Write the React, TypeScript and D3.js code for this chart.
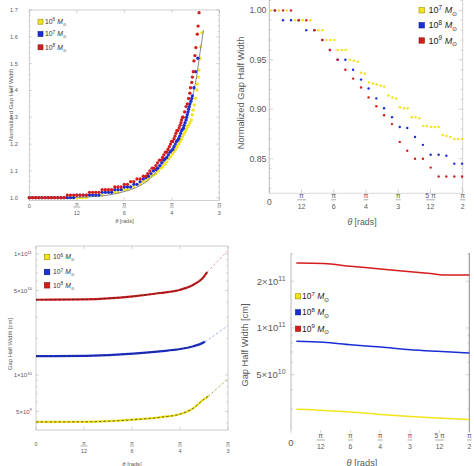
import React from 'react';
import * as d3 from 'd3';

type P = [number, number];

const FONT = "'Liberation Sans', Arial, Helvetica, sans-serif";
const RED = '#d41c1c';
const BLUE = '#1a2ed6';
const YELLOW = '#f2e31a';
const TXT = '#5a5a5a';

// ---------- Panel A: normalized gap half width (theta in degrees) ----------
const aMass = ['6', '7', '8'];
const aYTicks = [1.0, 1.1, 1.2, 1.3, 1.4, 1.5, 1.6, 1.7];
const aYellow: P[] = [
  [0, 1], [1, 1], [2, 1], [3, 1], [4, 1], [5, 1], [6, 1], [7, 1], [8, 1], [9, 1], [10, 1], [11, 1], [12, 1], [13, 1], [14, 1], [15, 1], [16, 1], [17, 1], [18, 1],
  [19, 1.01], [20, 1.01], [21, 1.01], [22, 1.01], [23, 1.01],
  [24, 1.02], [25, 1.02], [26, 1.02], [27, 1.02], [28, 1.02],
  [29, 1.03], [30, 1.03], [31, 1.03], [32, 1.04], [33, 1.04], [34, 1.05], [35, 1.05], [36, 1.06],
  [37, 1.065], [37.6, 1.07], [38.4, 1.08], [39.2, 1.085], [40, 1.09], [40.7, 1.1], [41.4, 1.11], [42.1, 1.115], [42.8, 1.125],
  [43.4, 1.134], [44, 1.145], [44.6, 1.153], [45.2, 1.163], [45.7, 1.172], [46.2, 1.18], [46.7, 1.19], [47.2, 1.2], [47.6, 1.209],
  [48, 1.218], [48.4, 1.228], [48.8, 1.237], [49.2, 1.246], [49.6, 1.255], [49.9, 1.265], [50.3, 1.27], [50.7, 1.28], [51.2, 1.29],
  [51.5, 1.309], [51.8, 1.327], [52.1, 1.346], [52.5, 1.371], [52.9, 1.402], [53.05, 1.424], [53.4, 1.45], [53.6, 1.476],
  [53.9, 1.52], [54.1, 1.563], [54.5, 1.616],
];
const aBlue: P[] = [
  [0, 1], [1, 1], [2, 1], [3, 1], [4, 1], [5, 1], [6, 1], [7, 1], [8, 1], [9, 1], [10, 1], [11, 1], [12, 1], [13, 1], [14, 1],
  [15, 1.01], [16, 1.01], [17, 1.01], [18, 1.01], [19, 1.01], [20, 1.01], [21, 1.01], [22, 1.01],
  [23, 1.02], [24, 1.02], [25, 1.02], [26, 1.02], [27, 1.03], [28, 1.03], [29, 1.03], [30, 1.04], [31, 1.04], [32, 1.04],
  [33, 1.05], [34, 1.05], [35, 1.06], [36, 1.07],
  [36.8, 1.075], [37.6, 1.08], [38.4, 1.09], [39.2, 1.1], [39.9, 1.105], [40.5, 1.11], [41.2, 1.12], [41.8, 1.13], [42.4, 1.14],
  [42.9, 1.145], [43.4, 1.15], [43.9, 1.16], [44.4, 1.17], [44.8, 1.175], [45.3, 1.18], [45.7, 1.19], [46.1, 1.2], [46.5, 1.21],
  [46.9, 1.215], [47.2, 1.22], [47.5, 1.23], [47.8, 1.24], [48.1, 1.25], [48.4, 1.255], [48.7, 1.26], [48.9, 1.27], [49.2, 1.28],
  [49.5, 1.29], [49.7, 1.3], [49.9, 1.31], [50.1, 1.32], [50.3, 1.33], [50.5, 1.34], [50.7, 1.35], [51.05, 1.36], [51.3, 1.37],
  [51.5, 1.38], [52, 1.41], [52.5, 1.47], [53.2, 1.52],
];
const aRed: P[] = [
  [0, 1], [1, 1], [2, 1], [3, 1], [4, 1], [5, 1], [6, 1], [7, 1], [8, 1], [9, 1], [10, 1], [11, 1],
  [12, 1.01], [13, 1.01], [14, 1.01], [15, 1.01], [16, 1.01], [17, 1.01], [18, 1.01],
  [19, 1.02], [20, 1.02], [21, 1.02], [22, 1.02], [23, 1.03], [24, 1.03], [25, 1.03], [26, 1.03],
  [27, 1.04], [28, 1.04], [29, 1.04], [30, 1.05], [31, 1.05], [32, 1.06], [33, 1.06], [34, 1.07], [35, 1.07],
  [36, 1.08], [36.8, 1.08], [37.4, 1.09], [38.1, 1.1], [38.8, 1.11], [39.4, 1.11], [40, 1.12], [40.5, 1.13], [41.1, 1.14],
  [41.6, 1.14], [42.1, 1.15], [42.5, 1.16], [43, 1.17], [43.4, 1.17], [43.8, 1.18], [44.2, 1.19], [44.6, 1.2], [44.9, 1.21],
  [45.3, 1.21], [45.7, 1.22], [46, 1.23], [46.3, 1.24], [46.6, 1.25], [46.9, 1.25], [47.3, 1.26], [47.6, 1.27], [47.9, 1.28],
  [48.1, 1.29], [48.4, 1.3], [48.6, 1.3], [49.05, 1.32], [49.5, 1.34], [49.9, 1.35], [50.3, 1.37], [50.7, 1.39], [50.9, 1.41],
  [51.3, 1.43], [51.5, 1.45], [51.8, 1.47], [52, 1.51], [52.3, 1.53], [52.6, 1.56], [53.05, 1.61], [53.3, 1.64], [53.6, 1.69],
];
const aModel: P[] = [
  [0, 1.0], [15, 1.001], [20, 1.004], [25, 1.01], [29, 1.02], [32, 1.03], [35, 1.045], [38, 1.07], [40, 1.095], [42, 1.125],
  [44, 1.16], [45.8, 1.195], [47.5, 1.235], [49, 1.28], [50.3, 1.32], [51.5, 1.375], [52.8, 1.45], [53.9, 1.54], [55, 1.625],
];

// ---------- Panel B: normalized gap half width, 10^7..10^9 ----------
const bMass = ['7', '8', '9'];
const bYTicks = [1.0, 0.95, 0.9, 0.85];
const bYellow: P[] = [
  [0.8, 1.0], [4.5, 1.0], [8.2, 1.0], [12.0, 0.99], [15.4, 0.99], [19.1, 0.99], [22.8, 0.98], [24.7, 0.98],
  [26.5, 0.97], [28.4, 0.97], [30.3, 0.97], [31.8, 0.96], [33.7, 0.96], [35.5, 0.96], [37.4, 0.95], [39.3, 0.949], [41.1, 0.948],
  [42.7, 0.937], [44.5, 0.936], [46.4, 0.927], [48.3, 0.926], [50.0, 0.925], [51.8, 0.924], [53.5, 0.923],
  [55.4, 0.914], [57.3, 0.912], [59.0, 0.911], [60.8, 0.902], [62.7, 0.901], [64.4, 0.901], [66.3, 0.892], [68.0, 0.892], [69.8, 0.891],
  [71.7, 0.883], [73.4, 0.883], [75.3, 0.882], [77.0, 0.882], [78.8, 0.882],
  [80.7, 0.874], [82.4, 0.873], [84.3, 0.872], [86.1, 0.87], [87.8, 0.87], [89.7, 0.87],
];
const bBlue: P[] = [
  [2.6, 1.0], [6.4, 0.99], [10.1, 0.99], [13.7, 0.99], [17.2, 0.98], [21.0, 0.98], [24.7, 0.97], [28.2, 0.96], [31.8, 0.95],
  [35.4, 0.95], [39.0, 0.94], [42.7, 0.93], [46.2, 0.921], [49.8, 0.911], [53.4, 0.901], [57.1, 0.892], [60.7, 0.882],
  [64.2, 0.881], [67.8, 0.872], [71.5, 0.864], [75.1, 0.854], [78.8, 0.854], [82.4, 0.853], [86.1, 0.845], [89.7, 0.845],
];
const bRed: P[] = [
  [2.6, 1.0], [6.4, 1.0], [10.1, 1.0], [13.7, 0.99], [17.2, 0.99], [21.0, 0.98], [24.7, 0.97], [28.2, 0.96], [31.8, 0.95],
  [35.4, 0.94], [39.0, 0.931], [42.7, 0.922], [46.2, 0.912], [49.8, 0.903], [53.4, 0.894], [57.1, 0.885], [60.7, 0.867],
  [64.2, 0.858], [67.8, 0.85], [71.5, 0.85], [75.1, 0.841], [78.8, 0.832], [82.4, 0.832], [86.1, 0.832], [89.7, 0.832],
];

// ---------- Panel C: gap half width [cm], 10^6..10^8 ----------
const cMass = ['6', '7', '8'];
const cYTicks = [{ v: 1e11, m: '1', e: '11' }, { v: 5e10, m: '5', e: '10' }, { v: 1e10, m: '1', e: '10' }, { v: 5e9, m: '5', e: '9' }];
const cYellow: P[] = [[0, 4.09e9], [15.4, 4.1e9], [30.3, 4.27e9], [38.75, 4.47e9], [45.1, 4.76e9], [49.2, 5.33e9], [52.3, 6.25e9], [53.8, 6.67e9]];
const cYellowExt: P[] = [[53.8, 6.67e9], [60, 9.3e9]];
const cBlue: P[] = [[0, 1.43e10], [15.4, 1.44e10], [30.3, 1.5e10], [38.75, 1.57e10], [45.1, 1.64e10], [49.2, 1.73e10], [51.3, 1.8e10], [52.8, 1.88e10]];
const cBlueExt: P[] = [[52.8, 1.88e10], [60, 2.56e10]];
const cRed: P[] = [[0, 4.19e10], [15.4, 4.22e10], [30.3, 4.47e10], [38.75, 4.76e10], [45.1, 5.07e10], [49.2, 5.58e10], [51.8, 6.21e10], [53.5, 7.1e10]];
const cRedExt: P[] = [[53.5, 7.1e10], [60, 1.07e11]];

// ---------- Panel D: gap half width [cm], 10^7..10^9 ----------
const dMass = ['7', '8', '9'];
const dYTicks = [{ v: 2e11, m: '2', e: '11' }, { v: 1e11, m: '1', e: '11' }, { v: 5e10, m: '5', e: '10' }];
const dRed: P[] = [[2.7, 2.62e11], [16.5, 2.6e11], [30, 2.5e11], [45.2, 2.4e11], [60.3, 2.3e11], [70.4, 2.24e11], [78.9, 2.19e11], [90, 2.19e11]];
const dBlue: P[] = [[2.7, 8.2e10], [16.5, 8.09e10], [30, 7.8e10], [45.2, 7.54e10], [60.3, 7.24e10], [73.8, 7.07e10], [90, 6.9e10]];
const dYellow: P[] = [[2.7, 2.99e10], [16.5, 2.94e10], [30, 2.87e10], [45.2, 2.77e10], [60.3, 2.69e10], [73.8, 2.63e10], [90, 2.57e10]];

// theta ticks (degrees) with pi-fraction labels
const piTicks60 = [
  { d: 0, n: '0', den: '' }, { d: 15, n: 'π', den: '12' }, { d: 30, n: 'π', den: '6' }, { d: 45, n: 'π', den: '4' }, { d: 60, n: 'π', den: '3' },
];
const piTicks90 = [
  ...piTicks60, { d: 75, n: '5 π', den: '12' }, { d: 90, n: 'π', den: '2' },
];

const COLORS = [YELLOW, BLUE, RED];
const BORDERS = ['#9a9000', '#0a1890', '#8a1010'];

function Frac({ x, line, n, den, fs, zeroY, numDy, denDy, zeroFs }: any) {
  if (!den) {
    return <text x={x} y={zeroY} fontSize={zeroFs || fs} textAnchor="middle" fill={TXT} fontFamily={FONT}>{n}</text>;
  }
  const w = Math.max(den.length, n.length > 1 ? 2 : 1) * fs * 0.56 + 1;
  return (
    <g fill={TXT} fontFamily={FONT} fontSize={fs} textAnchor="middle">
      <text x={x} y={line - numDy} fontStyle="normal">{n}</text>
      <line x1={x - w / 2} x2={x + w / 2} y1={line} y2={line} stroke={TXT} strokeWidth={0.5} />
      <text x={x} y={line + denDy}>{den}</text>
    </g>
  );
}

function MassLabel({ x, y, exp, fs, fill }: any) {
  return (
    <text x={x} y={y} fontSize={fs} fill={fill} fontFamily={FONT}>
      10<tspan dy={-fs * 0.42} fontSize={fs * 0.7}>{exp}</tspan>
      <tspan dy={fs * 0.42} dx={fs * 0.3} fontStyle="italic">M</tspan>
      <tspan dy={fs * 0.3} fontSize={fs * 0.65}>⊙</tspan>
    </text>
  );
}

function Legend({ x, ys, size, tx, fs, exps, fill }: any) {
  return (
    <g>
      {ys.map((yy: number, i: number) => (
        <g key={i}>
          <rect x={x} y={yy - size / 2} width={size} height={size} fill={COLORS[i]} stroke={BORDERS[i]} strokeWidth={0.6} />
          <MassLabel x={tx} y={yy + fs * 0.35} exp={exps[i]} fs={fs} fill={fill} />
        </g>
      ))}
    </g>
  );
}

function SciLabel({ x, y, m, e, fs }: any) {
  return (
    <text x={x} y={y + fs * 0.35} fontSize={fs} textAnchor="end" fill={TXT} fontFamily={FONT}>
      {m}×10<tspan dy={-fs * 0.4} fontSize={fs * 0.72}>{e}</tspan>
    </text>
  );
}

export default function App() {
  // scales
  const xA = d3.scaleLinear().domain([0, 60]).range([29.3, 219.3]);
  const yA = d3.scaleLinear().domain([0.99, 1.7]).range([200.4, 10]);
  const xB = d3.scaleLinear().domain([0, 90]).range([269.3, 462.7]);
  const yB = d3.scaleLinear().domain([0.815, 1.0105]).range([193.3, 0]);
  const xC = d3.scaleLinear().domain([0, 60]).range([36, 228]);
  const yC = d3.scaleLog().domain([3.51e9, 1.165e11]).range([430, 246]);
  const xD = d3.scaleLinear().domain([0, 90]).range([291, 469.3]);
  const yD = d3.scaleLog().domain([2.2e10, 3.04e11]).range([430, 253]);

  const lineA = d3.line<P>().x((d) => xA(d[0])).y((d) => yA(d[1])).curve(d3.curveMonotoneX);
  const lineC = d3.line<P>().x((d) => xC(d[0])).y((d) => yC(d[1])).curve(d3.curveMonotoneX);
  const lineD = d3.line<P>().x((d) => xD(d[0])).y((d) => yD(d[1])).curve(d3.curveMonotoneX);

  const aMinor = d3.range(1.0, 1.7001, 0.02);
  const bMinor = d3.range(0.82, 1.0101, 0.01);
  const cMinor = [4e9, 5e9, 6e9, 7e9, 8e9, 9e9, 1e10, 2e10, 3e10, 4e10, 5e10, 6e10, 7e10, 8e10, 9e10, 1e11];
  const dMinor = [3e10, 4e10, 5e10, 6e10, 7e10, 8e10, 9e10, 1e11, 2e11, 3e11];

  const tickStroke = '#a8a8a8';

  return (
    <svg width={474} height={466} style={{ position: 'absolute', left: 0, top: 0, background: '#fff' }}>
      {/* ================= Panel A ================= */}
      <g>
        <rect x={xA(0)} y={yA(1.7)} width={xA(60) - xA(0)} height={yA(0.99) - yA(1.7)} fill="none" stroke="#c4c4c4" strokeWidth={0.8} />
        {aMinor.map((v, i) => {
          const major = Math.abs(Math.round(v * 10) / 10 - v) < 1e-6;
          const L = major ? 3 : 1.5;
          return (
            <g key={i} stroke={tickStroke} strokeWidth={0.5}>
              <line x1={xA(0)} x2={xA(0) + L} y1={yA(v)} y2={yA(v)} />
              <line x1={xA(60)} x2={xA(60) - L} y1={yA(v)} y2={yA(v)} />
            </g>
          );
        })}
        {piTicks60.map((t) => (
          <g key={t.d}>
            <line x1={xA(t.d)} x2={xA(t.d)} y1={yA(0.99)} y2={yA(0.99) - 3} stroke={tickStroke} strokeWidth={0.5} />
            <line x1={xA(t.d)} x2={xA(t.d)} y1={yA(1.7)} y2={yA(1.7) + 3} stroke={tickStroke} strokeWidth={0.5} />
            <Frac x={xA(t.d)} line={207} n={t.n} den={t.den} fs={5.5} zeroY={208} numDy={1.5} denDy={7.5} />
          </g>
        ))}
        {aYTicks.map((v) => (
          <text key={v} x={17.8} y={yA(v) + 2} fontSize={5.6} textAnchor="end" fill={TXT} fontFamily={FONT}>{v.toFixed(1)}</text>
        ))}
        <text transform={`translate(12.5,105) rotate(-90)`} fontSize={6} textAnchor="middle" fill={TXT} fontFamily={FONT}>Normalized Gap Half Width</text>
        <text x={124.5} y={223} fontSize={5.6} textAnchor="middle" fill={TXT} fontFamily={FONT}>
          <tspan fontStyle="italic">θ</tspan> [rads]
        </text>
        {aYellow.map((d, i) => <circle key={'ay' + i} cx={xA(d[0])} cy={yA(d[1])} r={1.65} fill={YELLOW} />)}
        <path d={lineA(aModel) || ''} fill="none" stroke="#8a8a8a" strokeWidth={1} />
        {aBlue.map((d, i) => <circle key={'ab' + i} cx={xA(d[0])} cy={yA(d[1])} r={1.65} fill={BLUE} />)}
        {aRed.map((d, i) => <circle key={'ar' + i} cx={xA(d[0])} cy={yA(d[1])} r={1.65} fill={RED} />)}
        <Legend x={38} ys={[21.7, 34, 47.3]} size={5} tx={45} fs={6.8} exps={aMass} fill="#333" />
      </g>

      {/* ================= Panel B ================= */}
      <g>
        <line x1={xB(0)} x2={xB(0)} y1={0} y2={yB(0.815)} stroke="#aaa" strokeWidth={0.8} />
        <line x1={xB(90)} x2={xB(90)} y1={0} y2={yB(0.815)} stroke="#c8c8c8" strokeWidth={0.8} />
        <line x1={xB(0)} x2={xB(90)} y1={yB(0.815)} y2={yB(0.815)} stroke="#d0d0d0" strokeWidth={0.8} />
        {bMinor.map((v, i) => {
          const major = Math.abs(Math.round(v * 20) / 20 - v) < 1e-6;
          const L = major ? 4 : 2;
          return (
            <g key={i} stroke={tickStroke} strokeWidth={0.5}>
              <line x1={xB(0)} x2={xB(0) + L} y1={yB(v)} y2={yB(v)} />
              <line x1={xB(90)} x2={xB(90) - L} y1={yB(v)} y2={yB(v)} />
            </g>
          );
        })}
        {piTicks90.map((t) => (
          <g key={t.d}>
            <line x1={xB(t.d)} x2={xB(t.d)} y1={yB(0.815)} y2={yB(0.815) - 4} stroke={tickStroke} strokeWidth={0.5} />
            <Frac x={xB(t.d)} line={199.8} n={t.n} den={t.den} fs={7} zeroY={204.5} zeroFs={8.5} numDy={1.8} denDy={9.5} />
          </g>
        ))}
        {bYTicks.map((v) => (
          <text key={v} x={266.5} y={yB(v) + 3.1} fontSize={8.8} textAnchor="end" fill={TXT} fontFamily={FONT}>{v.toFixed(2)}</text>
        ))}
        <text transform={`translate(244,93) rotate(-90)`} fontSize={9.3} textAnchor="middle" fill={TXT} fontFamily={FONT}>Normalized Gap Half Width</text>
        <text x={362} y={224.5} fontSize={8.8} textAnchor="middle" fill={TXT} fontFamily={FONT}>
          <tspan fontStyle="italic">θ</tspan> [rads]
        </text>
        {bYellow.map((d, i) => <circle key={'by' + i} cx={xB(d[0])} cy={yB(d[1])} r={1.25} fill={YELLOW} />)}
        {bBlue.map((d, i) => <circle key={'bb' + i} cx={xB(d[0])} cy={yB(d[1])} r={1.2} fill={BLUE} />)}
        {bRed.map((d, i) => <circle key={'br' + i} cx={xB(d[0])} cy={yB(d[1])} r={1.2} fill={RED} />)}
        <Legend x={419} ys={[10.3, 25.3, 40.5]} size={5.4} tx={428.5} fs={9} exps={bMass} fill="#222" />
      </g>

      {/* ================= Panel C ================= */}
      <g>
        <rect x={xC(0)} y={246} width={xC(60) - xC(0)} height={430 - 246} fill="none" stroke="#c0c0c0" strokeWidth={0.8} />
        {cMinor.map((v, i) => {
          const major = [5e9, 1e10, 5e10, 1e11].includes(v);
          const L = major ? 3 : 1.6;
          return (
            <g key={i} stroke={tickStroke} strokeWidth={0.5}>
              <line x1={xC(0)} x2={xC(0) + L} y1={yC(v)} y2={yC(v)} />
              <line x1={xC(60)} x2={xC(60) - L} y1={yC(v)} y2={yC(v)} />
            </g>
          );
        })}
        {piTicks60.map((t) => (
          <g key={t.d}>
            <line x1={xC(t.d)} x2={xC(t.d)} y1={430} y2={427} stroke={tickStroke} strokeWidth={0.5} />
            <line x1={xC(t.d)} x2={xC(t.d)} y1={246} y2={249} stroke={tickStroke} strokeWidth={0.5} />
            <Frac x={xC(t.d)} line={446} n={t.n} den={t.den} fs={5.5} zeroY={445.5} numDy={1.5} denDy={7.2} />
          </g>
        ))}
        {cYTicks.map((t) => (
          <SciLabel key={t.v} x={32} y={yC(t.v)} m={t.m} e={t.e} fs={6} />
        ))}
        <text transform={`translate(12,344) rotate(-90)`} fontSize={5.8} textAnchor="middle" fill={TXT} fontFamily={FONT}>Gap Half Width [cm]</text>
        <text x={132} y={466} fontSize={5.8} textAnchor="middle" fill={TXT} fontFamily={FONT}>
          <tspan fontStyle="italic">θ</tspan> [rads]
        </text>
        <path d={lineC(cYellowExt) || ''} fill="none" stroke="#b3a84a" strokeWidth={1} strokeDasharray="2.5,2" />
        <path d={lineC(cBlueExt) || ''} fill="none" stroke="#a6b0ee" strokeWidth={1} strokeDasharray="2.5,2" />
        <path d={lineC(cRedExt) || ''} fill="none" stroke="#eca0a0" strokeWidth={1} strokeDasharray="2.5,2" />
        <path d={lineC(cYellow) || ''} fill="none" stroke={YELLOW} strokeWidth={2.2} />
        <path d={lineC(cBlue) || ''} fill="none" stroke={BLUE} strokeWidth={2.2} />
        <path d={lineC(cRed) || ''} fill="none" stroke={RED} strokeWidth={2.2} />
        <path d={lineC(cYellow) || ''} fill="none" stroke="#333" strokeWidth={0.7} strokeDasharray="2.5,2" />
        <path d={lineC(cBlue) || ''} fill="none" stroke="#222" strokeWidth={0.7} strokeDasharray="2.5,2" />
        <path d={lineC(cRed) || ''} fill="none" stroke="#222" strokeWidth={0.7} strokeDasharray="2.5,2" />
        <Legend x={44.3} ys={[257, 272, 285.3]} size={5.5} tx={53} fs={6.8} exps={cMass} fill="#333" />
      </g>

      {/* ================= Panel D ================= */}
      <g>
        <line x1={xD(0)} x2={xD(0)} y1={253} y2={430} stroke="#a8a8a8" strokeWidth={0.8} />
        <line x1={xD(90)} x2={xD(90)} y1={253} y2={432} stroke="#7a7a7a" strokeWidth={0.9} />
        {dMinor.map((v, i) => {
          const major = [5e10, 1e11, 2e11].includes(v);
          const L = major ? 3.5 : 2;
          return (
            <g key={i} stroke={tickStroke} strokeWidth={0.5}>
              <line x1={xD(0)} x2={xD(0) + L} y1={yD(v)} y2={yD(v)} />
              <line x1={xD(90)} x2={xD(90) - L} y1={yD(v)} y2={yD(v)} />
            </g>
          );
        })}
        {piTicks90.map((t) => (
          <g key={t.d}>
            <line x1={xD(t.d)} x2={xD(t.d)} y1={430} y2={433} stroke={tickStroke} strokeWidth={0.5} />
            <Frac x={xD(t.d)} line={440} n={t.n} den={t.den} fs={6.8} zeroY={446} zeroFs={9.5} numDy={2} denDy={9} />
          </g>
        ))}
        {dYTicks.map((t) => (
          <SciLabel key={t.v} x={285.5} y={yD(t.v)} m={t.m} e={t.e} fs={9.6} />
        ))}
        <text transform={`translate(247.5,345) rotate(-90)`} fontSize={9.3} textAnchor="middle" fill={TXT} fontFamily={FONT}>Gap Half Width [cm]</text>
        <text x={362} y={465.5} fontSize={9.3} textAnchor="middle" fill={TXT} fontFamily={FONT}>
          <tspan fontStyle="italic">θ</tspan> [rads]
        </text>
        <path d={lineD(dYellow) || ''} fill="none" stroke={YELLOW} strokeWidth={1.5} />
        <path d={lineD(dBlue) || ''} fill="none" stroke={BLUE} strokeWidth={1.5} />
        <path d={lineD(dRed) || ''} fill="none" stroke={RED} strokeWidth={1.5} />
        <Legend x={295.5} ys={[296.3, 312.3, 328.7]} size={5.2} tx={302} fs={8.5} exps={dMass} fill="#222" />
      </g>
    </svg>
  );
}
